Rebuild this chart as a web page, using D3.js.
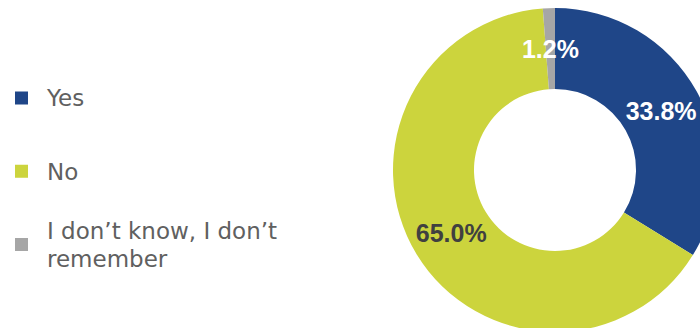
<!DOCTYPE html>
<html>
<head>
<meta charset="utf-8">
<script src="https://cdn.jsdelivr.net/npm/d3@7"></script>
<style>
  html, body { margin: 0; padding: 0; background: #ffffff; }
  svg { display: block; }
</style>
</head>
<body>
<svg id="chart" width="700" height="328"></svg>
<script>
// Survey answers and their shares (%)
const categories = ["Yes", "No", "I don't know, I don't remember"];
const legendLines = [["Yes"], ["No"], ["I don\u2019t know, I don\u2019t", "remember"]];
const values = [33.8, 65.0, 1.2];
const colors = ["#1F4688", "#CCD43D", "#A6A6A6"];
const labelColors = ["#FFFFFF", "#404040", "#FFFFFF"];

const svg = d3.select("#chart");

// Donut
const cx = 555, cy = 170, outerR = 162, innerR = 81;
const pie = d3.pie().sort(null).value(d => d)(values);
const arc = d3.arc().innerRadius(innerR).outerRadius(outerR);

const g = svg.append("g").attr("transform", `translate(${cx},${cy})`);
g.selectAll("path.slice")
  .data(pie)
  .join("path")
  .attr("class", "slice")
  .attr("d", arc)
  .attr("fill", (d, i) => colors[i]);

g.selectAll("text.val")
  .data(pie)
  .join("text")
  .attr("class", "val")
  .attr("transform", d => `translate(${arc.centroid(d)})`)
  .attr("text-anchor", "middle")
  .attr("dy", "0.36em")
  .attr("font-family", "'Liberation Sans', Arial, sans-serif")
  .attr("font-weight", "bold")
  .attr("font-size", 25)
  .attr("fill", (d, i) => labelColors[i])
  .text(d => d3.format(".1f")(d.data) + "%");

// Legend
const legendY = d3.scalePoint().domain(categories).range([98, 244.5]);
const lg = svg.append("g");
const items = lg.selectAll("g.item")
  .data(categories)
  .join("g")
  .attr("class", "item")
  .attr("transform", d => `translate(0,${legendY(d)})`);

items.append("rect")
  .attr("x", 15).attr("y", -6.5)
  .attr("width", 13).attr("height", 13)
  .attr("fill", (d, i) => colors[i]);

items.each(function(d, i) {
  const lines = legendLines[i];
  const lh = 28.5;
  const t = d3.select(this).append("text")
    .attr("font-family", "'DejaVu Sans', sans-serif")
    .attr("font-size", 23)
    .attr("fill", "#606060");
  lines.forEach((line, j) => {
    t.append("tspan")
      .attr("x", 47)
      .attr("y", (j - (lines.length - 1) / 2) * lh)
      .attr("dy", "0.36em")
      .text(line);
  });
});
</script>
</body>
</html>
